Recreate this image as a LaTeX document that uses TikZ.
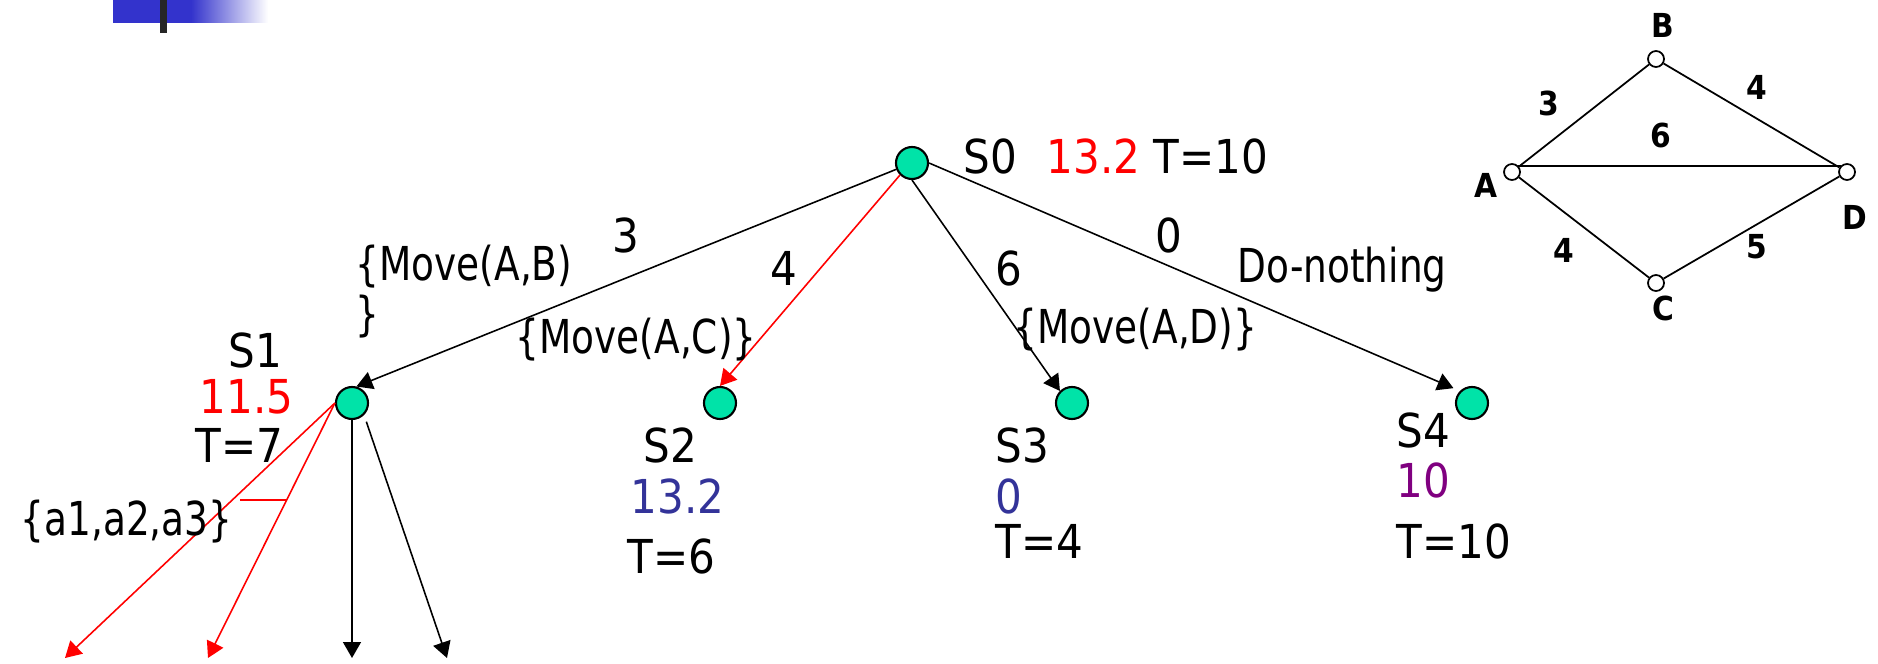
\documentclass[tikz,border=0pt]{standalone}
\usepackage{fontspec}
\setmainfont{DejaVu Sans Condensed}
\newfontfamily\actfont[FakeStretch=0.89]{DejaVu Sans Condensed}
\usepackage{xcolor}
\usepackage{tikz}
\usetikzlibrary{arrows.meta}

\definecolor{statefill}{RGB}{0,227,168}
\definecolor{valblue}{RGB}{51,51,153}
\definecolor{valpurple}{RGB}{128,0,128}
\definecolor{barblue}{RGB}{51,51,204}

\begin{document}
\begin{tikzpicture}[x=1cm,y=-1cm,
  state/.style={circle, draw = black, fill = statefill, line width=0.6pt, minimum size=0.32cm, inner sep=0pt},
  vtx/.style={circle, draw = black, fill = white, line width=0.5pt, minimum size=0.16cm, inner sep=0pt},
  txt/.style={anchor=base west, inner sep=0pt, font=\fontsize{13.3}{16}\selectfont},
  acttxt/.style={txt, font=\fontsize{13.3}{16}\actfont},
  glbl/.style={inner sep=0pt, font=\fontsize{9.4}{11}\selectfont\bfseries},
  act/.style={-{Triangle[length=0.16cm,width=0.18cm]}, line width=0.45pt},
  bestact/.style={act, draw = red}
  ]
    \useasboundingbox (0,0) rectangle (18.78,6.64);

    % Title bar in the corner
    \fill[barblue] (1.13,0) rectangle (1.92,0.23);
    \shade[left color = barblue, right color = white] (1.91,0) rectangle (2.68,0.23);
    \fill[black!85] (1.60,0) rectangle (1.67,0.33);

    % States
    \node[state] (S0) at (9.12,1.63) {};
    \node[state] (S1) at (3.52,4.03) {};
    \node[state] (S2) at (7.20,4.03) {};
    \node[state] (S3) at (10.72,4.03) {};
    \node[state] (S4) at (14.72,4.03) {};

    % Values and horizons
    \node[txt] (s0name) at (9.63,1.73) {S0};
    \node[txt, red] (s0val) at (10.46,1.73) {13.2};
    \node[txt] (s0time) at (11.53,1.73) {T=10};

    \node[txt] (s1name) at (2.28,3.67) {S1};
    \node[txt, red] (s1val) at (1.99,4.13) {11.5};
    \node[txt] (s1time) at (1.95,4.62) {T=7};

    \node[txt] (s2name) at (6.43,4.62) {S2};
    \node[txt, valblue] (s2val) at (6.30,5.13) {13.2};
    \node[txt] (s2time) at (6.27,5.73) {T=6};

    \node[txt] (s3name) at (9.95,4.62) {S3};
    \node[txt, valblue] (s3val) at (9.95,5.13) {0};
    \node[txt] (s3time) at (9.95,5.58) {T=4};

    \node[txt] (s4name) at (13.96,4.47) {S4};
    \node[txt, valpurple] (s4val) at (13.96,4.97) {10};
    \node[txt] (s4time) at (13.96,5.58) {T=10};

    % Actions out of S0
    \draw[act] (S0) -- (S1.75);
    \draw[bestact] (S0.225) -- (S2.north);
    \draw[act] (S0.south) -- (S3.north west);
    \draw[act, shorten >=2pt] (S0.east) -- (S4.north west);

    \node[txt] (c1) at (6.12,2.53) {3};
    \node[acttxt] (m1) at (3.55,2.80) {\{Move(A,B)};
    \node[acttxt] (m1b) at (3.55,3.30) {\}};
    \node[txt] (c2) at (7.70,2.85) {4};
    \node[acttxt] (m2) at (5.15,3.53) {\{Move(A,C)\}};
    \node[txt] (c3) at (9.95,2.85) {6};
    \node[acttxt] (m3) at (10.13,3.43) {\{Move(A,D)\}};
    \node[txt] (c4) at (11.55,2.53) {0};
    \node[acttxt] (m4) at (12.37,2.82) {Do-nothing};

    % Actions out of S1
    \coordinate (e1) at (0.65,6.58);
    \coordinate (e2) at (2.08,6.58);
    \coordinate (e3) at (3.52,6.58);
    \coordinate (e4) at (4.47,6.58);
    \draw[bestact] (S1.west) -- (e1);
    \draw[bestact] (S1.west) -- (e2);
    \draw[act] (S1.south) -- (e3);
    \draw[act, shorten <=2pt] (S1.-45) -- (e4);
    \draw[red, line width=0.45pt] (2.40,5.00) -- (2.87,5.00);
    \node[acttxt] (joint) at (0.20,5.35) {\{a1,a2,a3\}};

    % Road map
    \begin{scope}[line width=0.5pt]
      \node[vtx] (B) at (16.56,0.59) {};
      \node[vtx] (A) at (15.12,1.72) {};
      \node[vtx] (D) at (18.47,1.72) {};
      \node[vtx] (C) at (16.56,2.83) {};
      \draw (A) -- (B) -- (D);
      \draw (A.north east) -- (D.north west);
      \draw (A) -- (C) -- (D);
      \node[glbl] at (16.63,0.25) {B};
      \node[glbl] at (14.86,1.85) {A};
      \node[glbl] at (18.55,2.17) {D};
      \node[glbl] at (16.63,3.08) {C};
      \node[glbl] at (15.49,1.03) {3};
      \node[glbl] at (17.57,0.87) {4};
      \node[glbl] at (16.61,1.35) {6};
      \node[glbl] at (15.64,2.50) {4};
      \node[glbl] at (17.57,2.47) {5};
    \end{scope}
\end{tikzpicture}
\end{document}
